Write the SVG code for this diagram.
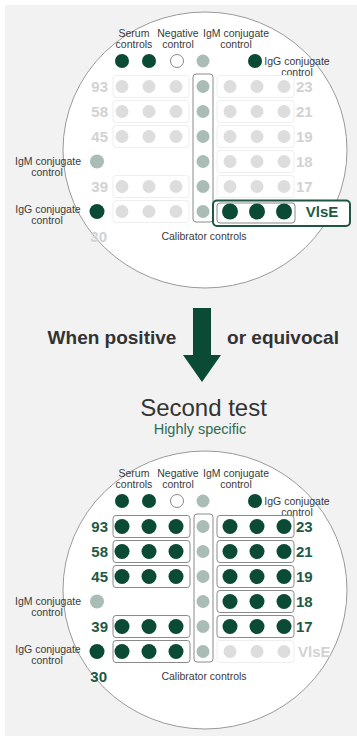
<svg xmlns="http://www.w3.org/2000/svg" width="357" height="736" viewBox="0 0 357 736">
<style>
.lbl{font-family:"Liberation Sans",Arial,sans-serif;font-size:10.5px;fill:#3a3a3a;text-anchor:middle}
.num1{font-family:"Liberation Sans",Arial,sans-serif;font-size:15px;font-weight:bold;fill:#d2d2d2}
.num2{font-family:"Liberation Sans",Arial,sans-serif;font-size:15px;font-weight:bold;fill:#1d5a43}
.plate{fill:#ffffff;stroke:#9a9a9a;stroke-width:1}
.dk{fill:#0b4a34}
.lt{fill:#dddddd}
.cal{fill:#a9bdb5}
.neg{fill:#ffffff;stroke:#888888;stroke-width:1}
.fbox{fill:none;stroke:#eeeeee;stroke-width:1}
.gbox{fill:none;stroke:#8a8a8a;stroke-width:1}
</style>
<defs>
<g id="lightRow"><rect class="fbox" x="113" y="-11" width="76" height="22" rx="3"/><circle class="lt" cx="122" cy="0" r="6.5"/><circle class="lt" cx="149" cy="0" r="6.5"/><circle class="lt" cx="176" cy="0" r="6.5"/></g>
<g id="lightRowR"><rect class="fbox" x="217" y="-11" width="77" height="22" rx="3"/><circle class="lt" cx="230" cy="0" r="6.5"/><circle class="lt" cx="257" cy="0" r="6.5"/><circle class="lt" cx="284" cy="0" r="6.5"/></g>
<g id="darkRow"><rect class="gbox" x="113" y="-11" width="77" height="22" rx="3"/><circle class="dk" cx="122" cy="0" r="7.5"/><circle class="dk" cx="149" cy="0" r="7.5"/><circle class="dk" cx="176" cy="0" r="7.5"/></g>
<g id="darkRowR"><rect class="gbox" x="217" y="-11" width="77" height="22" rx="3"/><circle class="dk" cx="230" cy="0" r="7.5"/><circle class="dk" cx="257" cy="0" r="7.5"/><circle class="dk" cx="284" cy="0" r="7.5"/></g>
</defs>
<rect x="5" y="5" width="352" height="731" fill="#f2f2f2"/>

<g id="first-test">
<ellipse class="plate" cx="205" cy="150" rx="142" ry="138"/>
<g id="top-controls-1">
<text class="lbl" x="134" y="37">Serum</text><text class="lbl" x="134" y="48">controls</text>
<text class="lbl" x="178" y="37">Negative</text><text class="lbl" x="178" y="48">control</text>
<text class="lbl" x="236" y="37">IgM conjugate</text><text class="lbl" x="236" y="48">control</text>
<text class="lbl" x="297" y="65">IgG conjugate</text><text class="lbl" x="297" y="76">control</text>
<circle class="dk" cx="122" cy="61" r="7"/><circle class="dk" cx="149" cy="61" r="7"/>
<circle class="neg" cx="177" cy="61" r="6.5"/><circle class="cal" cx="203" cy="61" r="6.5"/>
<circle class="dk" cx="255" cy="61" r="7"/>
</g>
<g id="calibrators-1">
<rect class="gbox" x="193" y="74" width="20" height="148" rx="3"/>
<circle class="cal" cx="203" cy="86.5" r="6.5"/><circle class="cal" cx="203" cy="111.5" r="6.5"/><circle class="cal" cx="203" cy="136.5" r="6.5"/><circle class="cal" cx="203" cy="161.5" r="6.5"/><circle class="cal" cx="203" cy="186.5" r="6.5"/><circle class="cal" cx="203" cy="211.5" r="6.5"/>
<text class="lbl" x="204" y="240">Calibrator controls</text>
</g>
<g id="wells-left-1">
<use href="#lightRow" y="86.5"/><use href="#lightRow" y="111.5"/><use href="#lightRow" y="136.5"/><use href="#lightRow" y="186.5"/><use href="#lightRow" y="211.5"/>
<text class="num1" x="108" y="92" text-anchor="end">93</text>
<text class="num1" x="108" y="117" text-anchor="end">58</text>
<text class="num1" x="108" y="142" text-anchor="end">45</text>
<text class="num1" x="108" y="192" text-anchor="end">39</text>
<text class="num1" x="107" y="242" text-anchor="end">30</text>
</g>
<g id="wells-right-1">
<use href="#lightRowR" y="86.5"/><use href="#lightRowR" y="111.5"/><use href="#lightRowR" y="136.5"/><use href="#lightRowR" y="161.5"/><use href="#lightRowR" y="186.5"/>
<text class="num1" x="296" y="92">23</text>
<text class="num1" x="296" y="117">21</text>
<text class="num1" x="296" y="142">19</text>
<text class="num1" x="296" y="167">18</text>
<text class="num1" x="296" y="192">17</text>
</g>
<g id="vlse-1">
<rect x="213" y="200.5" width="137" height="25.5" rx="4" fill="#ffffff" stroke="#1f5641" stroke-width="2"/>
<rect class="gbox" x="217" y="203" width="78" height="20" rx="3"/>
<circle class="dk" cx="230" cy="211.5" r="8"/><circle class="dk" cx="257" cy="211.5" r="8"/><circle class="dk" cx="284" cy="211.5" r="8"/>
<text class="num2" x="322" y="217" text-anchor="middle">VlsE</text>
</g>
<g id="side-controls-1">
<circle class="cal" cx="97" cy="161.5" r="7"/>
<text class="lbl" x="48" y="164.5">IgM conjugate</text><text class="lbl" x="47" y="175.5">control</text>
<circle class="dk" cx="97" cy="211.5" r="7.5"/>
<text class="lbl" x="48" y="213">IgG conjugate</text><text class="lbl" x="47" y="224">control</text>
</g>
</g>

<g id="connectors">
<polygon fill="#0b4a34" points="193,308 211,308 211,355 221,355 202,382 183,355 193,355"/>
</g>
<g id="step-labels">
<text x="112" y="344" text-anchor="middle" font-family="Liberation Sans, Arial, sans-serif" font-size="19" font-weight="bold" fill="#333333">When positive</text>
<text x="283" y="344" text-anchor="middle" font-family="Liberation Sans, Arial, sans-serif" font-size="19" font-weight="bold" fill="#333333">or equivocal</text>
<text x="203.5" y="416" text-anchor="middle" font-family="Liberation Sans, Arial, sans-serif" font-size="24" fill="#333333">Second test</text>
<text x="200" y="434" text-anchor="middle" font-family="Liberation Sans, Arial, sans-serif" font-size="14.5" fill="#2f6b52">Highly specific</text>
</g>

<g id="second-test">
<ellipse class="plate" cx="205" cy="590" rx="142" ry="139"/>
<g id="top-controls-2">
<text class="lbl" x="134" y="477">Serum</text><text class="lbl" x="134" y="488">controls</text>
<text class="lbl" x="178" y="477">Negative</text><text class="lbl" x="178" y="488">control</text>
<text class="lbl" x="236" y="477">IgM conjugate</text><text class="lbl" x="236" y="488">control</text>
<text class="lbl" x="297" y="505">IgG conjugate</text><text class="lbl" x="297" y="516">control</text>
<circle class="dk" cx="122" cy="501" r="7"/><circle class="dk" cx="149" cy="501" r="7"/>
<circle class="neg" cx="177" cy="501" r="6.5"/><circle class="cal" cx="203" cy="501" r="6.5"/>
<circle class="dk" cx="255" cy="501" r="7"/>
</g>
<g id="calibrators-2">
<rect class="gbox" x="194" y="514" width="19" height="148" rx="3"/>
<circle class="cal" cx="203" cy="526.5" r="6.5"/><circle class="cal" cx="203" cy="551.5" r="6.5"/><circle class="cal" cx="203" cy="576.5" r="6.5"/><circle class="cal" cx="203" cy="601.5" r="6.5"/><circle class="cal" cx="203" cy="626.5" r="6.5"/><circle class="cal" cx="203" cy="651.5" r="6.5"/>
<text class="lbl" x="204" y="680">Calibrator controls</text>
</g>
<g id="wells-left-2">
<use href="#darkRow" y="526.5"/><use href="#darkRow" y="551.5"/><use href="#darkRow" y="576.5"/><use href="#darkRow" y="626.5"/><use href="#darkRow" y="651.5"/>
<text class="num2" x="108" y="532" text-anchor="end">93</text>
<text class="num2" x="108" y="557" text-anchor="end">58</text>
<text class="num2" x="108" y="582" text-anchor="end">45</text>
<text class="num2" x="108" y="632" text-anchor="end">39</text>
<text class="num2" x="107" y="682" text-anchor="end">30</text>
</g>
<g id="wells-right-2">
<use href="#darkRowR" y="526.5"/><use href="#darkRowR" y="551.5"/><use href="#darkRowR" y="576.5"/><use href="#darkRowR" y="601.5"/><use href="#darkRowR" y="626.5"/>
<text class="num2" x="296" y="532">23</text>
<text class="num2" x="296" y="557">21</text>
<text class="num2" x="296" y="582">19</text>
<text class="num2" x="296" y="607">18</text>
<text class="num2" x="296" y="632">17</text>
</g>
<g id="vlse-2">
<use href="#lightRowR" y="651.5"/>
<text class="num1" x="298" y="657">VlsE</text>
</g>
<g id="side-controls-2">
<circle class="cal" cx="97" cy="601.5" r="7"/>
<text class="lbl" x="48" y="604.5">IgM conjugate</text><text class="lbl" x="47" y="615.5">control</text>
<circle class="dk" cx="97" cy="651.5" r="7.5"/>
<text class="lbl" x="48" y="653">IgG conjugate</text><text class="lbl" x="47" y="664">control</text>
</g>
</g>
</svg>
